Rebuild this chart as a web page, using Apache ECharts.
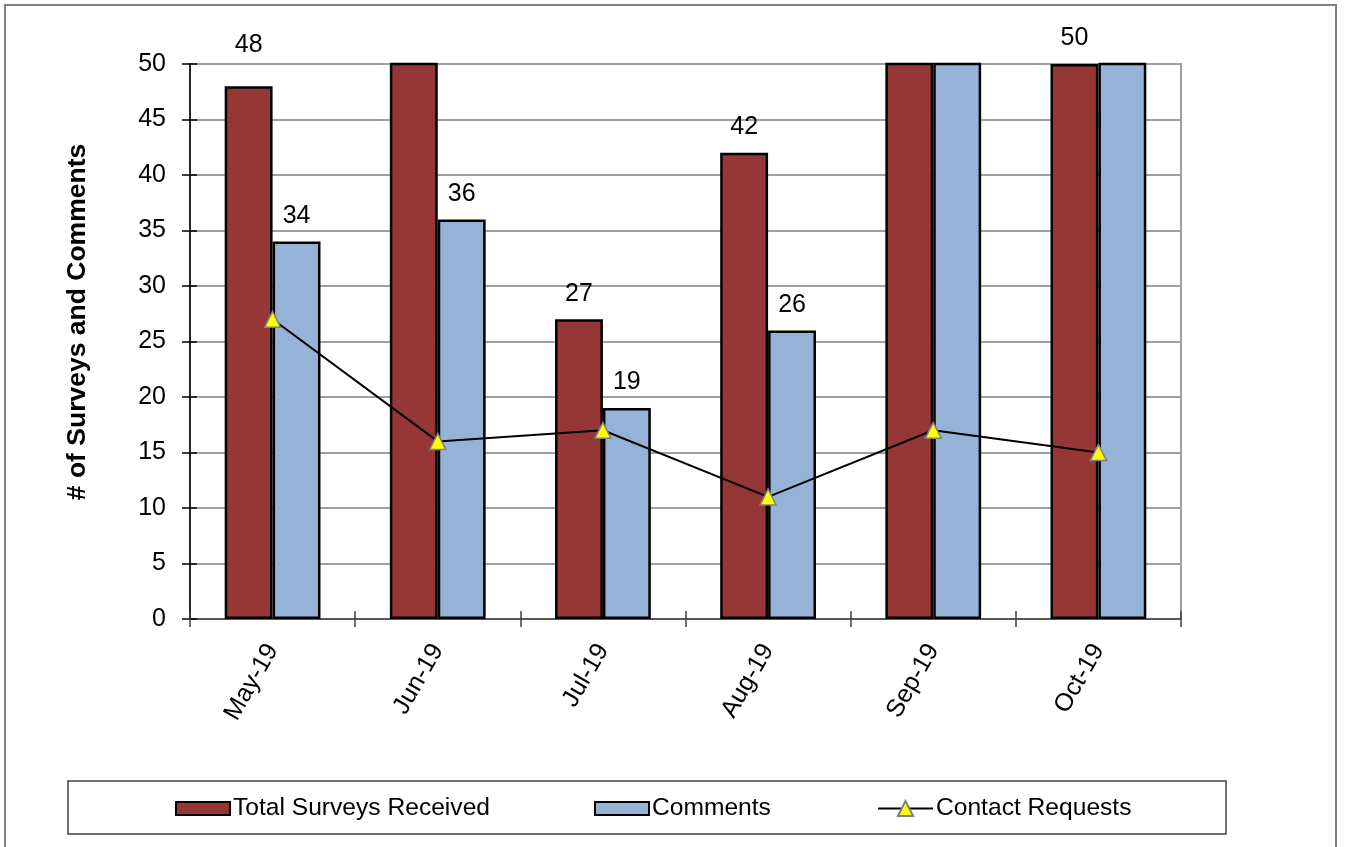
<!DOCTYPE html>
<html>
<head>
<meta charset="utf-8">
<title>Surveys and Comments</title>
<script src="https://cdn.jsdelivr.net/npm/echarts@6/dist/echarts.min.js"></script>
<style>
  html, body { margin: 0; padding: 0; background: #fff; }
  #chart { width: 1345px; height: 847px; }
</style>
</head>
<body>
<div id="chart"></div>
<script>
// Monthly survey figures
const months = ['May-19', 'Jun-19', 'Jul-19', 'Aug-19', 'Sep-19', 'Oct-19'];
const totalSurveys = [48, 56, 27, 42, 66, 50];
const comments = [34, 36, 19, 26, 55, 53];
const contactRequests = [27, 16, 17, 11, 17, 15];

// Value axis range
const yMin = 0;
const yMax = 50;
const yStep = 5;

const FONT = '"Liberation Sans", Arial, sans-serif';
const FS = 25;

const chart = echarts.init(document.getElementById('chart'), null, { renderer: 'canvas' });

// Values above the axis maximum are cut off at the top, so their labels are hidden
const barLabel = {
  show: true,
  position: 'top',
  distance: 13,
  color: '#000',
  fontSize: FS,
  fontFamily: FONT,
  formatter: p => (p.value <= yMax ? String(p.value) : '')
};

// The first month's total label sits a little higher above its bar
const totalData = totalSurveys.map((v, i) => (i === 0 ? { value: v, label: { distance: 29 } } : v));

const axisFont = { color: '#000', fontSize: FS, fontFamily: FONT };
const legendText = { color: '#000', fontSize: 24.6, fontFamily: FONT, padding: [0, 0, 0, -2] };

chart.setOption({
  animation: false,
  backgroundColor: '#fff',
  grid: {
    left: 190, right: 164, top: 64, bottom: 228,
    show: true, borderColor: '#a0a0a0', borderWidth: 2,
    containLabel: false
  },
  legend: [
    {
      left: 170, top: 791,
      itemWidth: 54, itemHeight: 13, itemGap: 104,
      textStyle: legendText,
      data: [
        { name: 'Total Surveys Received', icon: 'rect' },
        { name: 'Comments', icon: 'rect' }
      ]
    },
    {
      left: 872, top: 791,
      itemWidth: 55, itemHeight: 19,
      textStyle: legendText,
      data: [{ name: 'Contact Requests' }]
    }
  ],
  graphic: [
    { type: 'rect', shape: { x: 5, y: 5, width: 1331, height: 870 },
      style: { fill: 'none', stroke: '#808080', lineWidth: 2 }, silent: true, z: -10 },
    { type: 'rect', shape: { x: 68, y: 781, width: 1158, height: 53 },
      style: { fill: 'none', stroke: '#404040', lineWidth: 1.5 }, silent: true, z: -5 },
    { type: 'text', x: 78, y: 322, rotation: Math.PI / 2, silent: true,
      style: { text: '# of Surveys and Comments', fill: '#000', fontSize: 26.5, fontWeight: 'bold',
               fontFamily: FONT, align: 'center', verticalAlign: 'middle' } }
  ],
  xAxis: [
    {
      type: 'category', data: months, position: 'bottom',
      axisLine: { lineStyle: { color: '#404040', width: 1.5 } },
      axisTick: { show: true, length: 8, alignWithLabel: false, lineStyle: { color: '#404040', width: 1.5 } },
      axisLabel: Object.assign({ rotate: 60, margin: 27, interval: 0 }, axisFont),
      splitLine: { show: false }
    },
    {
      type: 'category', data: months, position: 'bottom',
      axisLine: { show: false },
      axisTick: { show: true, inside: true, length: 8, lineStyle: { color: '#404040', width: 1.5 } },
      axisLabel: { show: false },
      splitLine: { show: false }
    }
  ],
  yAxis: [
    {
      type: 'value', min: yMin, max: yMax, interval: yStep,
      axisLine: { show: true, lineStyle: { color: '#000', width: 1.5 } },
      axisTick: { show: true, length: 8, lineStyle: { color: '#000', width: 1.5 } },
      axisLabel: Object.assign({ margin: 24 }, axisFont),
      splitLine: { show: true, lineStyle: { color: '#a0a0a0', width: 2 } }
    },
    {
      type: 'value', min: yMin, max: yMax, interval: yStep, position: 'left',
      axisLine: { show: false },
      axisTick: { show: true, inside: true, length: 7, lineStyle: { color: '#000', width: 1.5 } },
      axisLabel: { show: false },
      splitLine: { show: false }
    }
  ],
  series: [
    {
      name: 'Total Surveys Received', type: 'bar', data: totalData,
      barGap: '0%', barCategoryGap: '42%', clip: true,
      itemStyle: { color: '#953735', borderColor: '#000', borderWidth: 2.5 },
      label: barLabel, z: 2
    },
    {
      name: 'Comments', type: 'bar', data: comments, clip: true,
      itemStyle: { color: '#95B3D7', borderColor: '#000', borderWidth: 2.5 },
      label: barLabel, z: 2
    },
    {
      name: 'Contact Requests', type: 'line', data: contactRequests,
      symbol: 'triangle', symbolSize: 16, showSymbol: true,
      lineStyle: { color: '#000', width: 2 },
      itemStyle: { color: '#FFFF00', borderColor: '#808080', borderWidth: 1.5 },
      z: 5
    }
  ]
});
</script>
</body>
</html>
